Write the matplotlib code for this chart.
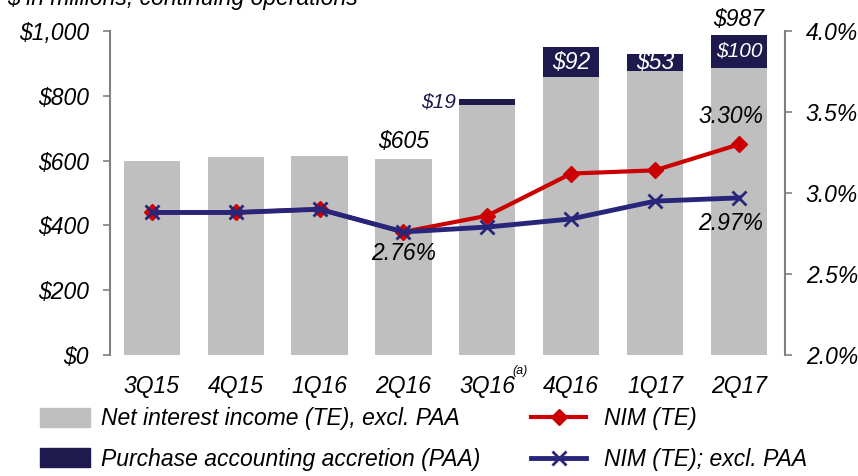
import matplotlib.pyplot as plt
import matplotlib.lines as mlines
import matplotlib.patches as mpatches
import numpy as np

plt.rcParams['font.family'] = ['Liberation Sans', 'DejaVu Sans']
plt.rcParams['font.style'] = 'italic'

quarters = ["3Q15", "4Q15", "1Q16", "2Q16", "3Q16", "4Q16", "1Q17", "2Q17"]
nii_excl = [599, 611, 614, 605, 772, 858, 877, 887]
paa = [0, 0, 0, 0, 19, 92, 53, 100]
nim_te = [2.88, 2.88, 2.90, 2.76, 2.86, 3.12, 3.14, 3.30]
nim_excl = [2.88, 2.88, 2.90, 2.76, 2.79, 2.84, 2.95, 2.97]

gray = "#BFBFBF"
navy = "#1E1A4E"
red = "#CC0000"
line_navy = "#27267A"
spine_c = "#808080"
fs = 16.5

fig = plt.figure(figsize=(8.58, 4.76), dpi=100)
ax = fig.add_axes([0.128, 0.254, 0.787, 0.681])
x = np.arange(len(quarters))
ax.bar(x, nii_excl, width=0.67, color=gray, zorder=1)
ax.bar(x, paa, bottom=nii_excl, width=0.67, color=navy, zorder=1)
ax.set_ylim(0, 1000)
ax.set_xlim(-0.5, len(quarters) - 0.45)
ax.set_yticks(np.arange(0, 1001, 200))
ax.set_yticklabels(["$0", "$200", "$400", "$600", "$800", "$1,000"])
ax.set_xticks(x)
ax.set_xticklabels(quarters)
ax.text(4.3, -50, "(a)", fontsize=9, ha="left", va="center")
for s in ["top", "right", "bottom"]:
    ax.spines[s].set_visible(False)
ax.spines["left"].set_color(spine_c)
ax.spines["left"].set_linewidth(1.5)
ax.tick_params(axis="y", colors=spine_c, labelcolor="black", labelsize=fs, length=5, width=1.2, pad=10)
ax.tick_params(axis="x", length=0, labelsize=fs, pad=14)

# bar labels
ax.text(3, 605 + 18, "$605", ha="center", va="bottom", fontsize=fs)
ax.text(7, 987 + 12, "$987", ha="center", va="bottom", fontsize=fs)
for i in [5, 6, 7]:
    ax.text(i, nii_excl[i] + paa[i] / 2, "$%d" % paa[i], ha="center", va="center",
            fontsize=fs if i != 7 else 15, color="white")
ax.text(3.63, nii_excl[4] + paa[4] / 2, "$19", ha="right", va="center", fontsize=15, color=navy)

ax2 = ax.twinx()
ax2.set_ylim(2.0, 4.0)
ax2.set_yticks([2.0, 2.5, 3.0, 3.5, 4.0])
ax2.set_yticklabels(["2.0%", "2.5%", "3.0%", "3.5%", "4.0%"])
for s in ["top", "left", "bottom"]:
    ax2.spines[s].set_visible(False)
ax2.spines["right"].set_color(spine_c)
ax2.spines["right"].set_linewidth(1.5)
ax2.tick_params(axis="y", colors=spine_c, labelcolor="black", labelsize=fs, length=5, width=1.2, pad=10)
ax2.plot(x, nim_te, color=red, lw=3, marker="D", markersize=8, zorder=3)
ax2.plot(x, nim_excl, color=line_navy, lw=3.5, marker="x", markersize=10, mew=2, zorder=4)
ax2.text(3, 2.76 - 0.06, "2.76%", ha="center", va="top", fontsize=fs)
ax2.text(6.9, 3.30 + 0.1, "3.30%", ha="center", va="bottom", fontsize=fs)
ax2.text(6.9, 2.97 - 0.09, "2.97%", ha="center", va="top", fontsize=fs)

fig.text(0.008, 0.99, "$ in millions, continuing operations", fontsize=fs, va="baseline", ha="left")

h1 = mpatches.Patch(color=gray)
h2 = mpatches.Patch(color=navy)
h3 = mlines.Line2D([], [], color=red, lw=3, marker="D", markersize=8)
h4 = mlines.Line2D([], [], color=line_navy, lw=3.5, marker="x", markersize=10, mew=2)
fig.legend([h1, h2], ["Net interest income (TE), excl. PAA", "Purchase accounting accretion (PAA)"],
           loc="lower left", bbox_to_anchor=(0.022, -0.032), frameon=False, fontsize=fs,
           handlelength=2.2, handleheight=0.9, labelspacing=0.75, handletextpad=0.5)
fig.legend([h3, h4], ["NIM (TE)", "NIM (TE); excl. PAA"],
           loc="lower left", bbox_to_anchor=(0.595, -0.032), frameon=False, fontsize=fs,
           handlelength=2.4, labelspacing=0.75, handletextpad=0.8)

fig.savefig("out.png", dpi=100)
